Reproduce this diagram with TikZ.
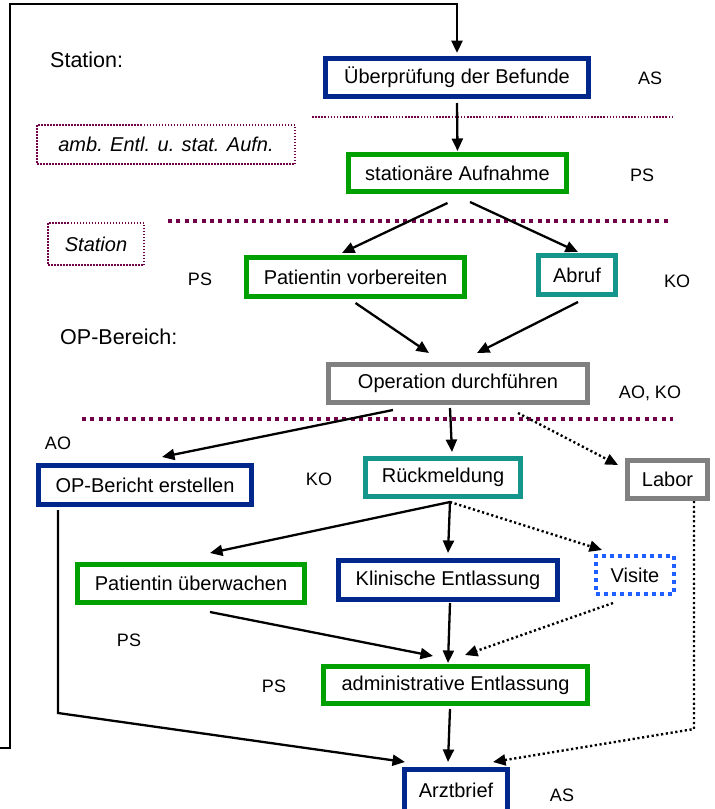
\documentclass[tikz,border=0pt]{standalone}
\usepackage{fontspec}
\setmainfont{Liberation Sans}
\usetikzlibrary{arrows.meta}
\definecolor{navybox}{RGB}{0,40,140}
\definecolor{greenbox}{RGB}{0,160,0}
\definecolor{tealbox}{RGB}{20,150,140}
\definecolor{graybox}{RGB}{128,128,128}
\definecolor{bluedot}{RGB}{30,95,255}
\definecolor{sepcol}{RGB}{112,0,72}
\begin{document}
\begin{tikzpicture}[x=1pt,y=-1pt,
  box/.style={draw, line width=5pt, inner sep=0pt, fill=white, text=black,
    font=\fontsize{20}{24}\selectfont},
  navyb/.style={box, draw=navybox},
  greenb/.style={box, draw=greenbox},
  tealb/.style={box, draw=tealbox},
  grayb/.style={box, draw=graybox},
  visitb/.style={box, draw=bluedot, line width=4pt, dash pattern=on 4pt off 4pt},
  areabox/.style={draw=sepcol, line width=1.5pt, dash pattern=on 1.5pt off 1.5pt,
    inner sep=0pt, font=\fontsize{20}{24}\selectfont\itshape},
  lab/.style={inner sep=0pt, font=\fontsize{18}{21}\selectfont},
  head/.style={inner sep=0pt, font=\fontsize{21.5}{25}\selectfont},
  arr/.style={line width=2.3pt, -{Triangle[length=12.5pt,width=11pt]}},
  dotarr/.style={arr, line width=2.4pt, dash pattern=on 2.2pt off 2.6pt},
  thinsep/.style={draw=sepcol, line width=1.5pt, dash pattern=on 1.5pt off 1.6pt},
  thicksep/.style={draw=sepcol, line width=4pt, dash pattern=on 4pt off 4.4pt},
  frame/.style={line width=2.8pt}
]
\useasboundingbox (0,0) rectangle (715,809);
\clip (0,0) rectangle (715,809);

% section separators
\draw[thinsep] (312,117) -- (673,117);
\draw[thicksep] (168,221) -- (670,221);
\draw[thicksep] (82,419) -- (673,419);

% process steps
\node[navyb,  minimum width=263pt, minimum height=38pt] (ueb)    at (457,77.5)  {Überprüfung der Befunde};
\node[greenb, minimum width=218pt, minimum height=37pt] (stat)   at (457.5,173) {stationäre Aufnahme};
\node[greenb, minimum width=218pt, minimum height=39pt] (pv)     at (355.5,277) {Patientin vorbereiten};
\node[tealb,  minimum width=77pt,  minimum height=39pt] (abruf)  at (577,275)   {Abruf};
\node[grayb,  minimum width=259pt, minimum height=38pt] (op)     at (458,383.5) {Operation durchführen};
\node[navyb,  minimum width=213pt, minimum height=39pt] (opb)    at (145,485)   {OP-Bericht erstellen};
\node[tealb,  minimum width=155pt, minimum height=38pt] (rm)     at (443,477.5) {Rückmeldung};
\node[grayb,  minimum width=80pt,  minimum height=38pt] (labor)  at (667.5,479.5) {Labor};
\node[greenb, minimum width=227pt, minimum height=38pt] (pu)     at (191,583.5) {Patientin überwachen};
\node[navyb,  minimum width=219pt, minimum height=39pt] (kl)     at (448,580)   {Klinische Entlassung};
\node[visitb, minimum width=78pt,  minimum height=38pt] (visite) at (635,575)   {Visite};
\node[greenb, minimum width=264pt, minimum height=37pt] (adm)    at (455.5,685) {administrative Entlassung};
\node[navyb,  minimum width=103pt, minimum height=45pt] (arzt)   at (456,792)   {\raisebox{3pt}{Arztbrief}};

% area markers
\node[areabox, minimum width=258pt, minimum height=39pt] (amb) at (166,144.5) {amb. Entl. u. stat. Aufn.};
\node[areabox, minimum width=96pt,  minimum height=42pt] (stbox) at (96,244) {Station};
\node[head, anchor=west] (hstation) at (50,60)  {Station:};
\node[head, anchor=west] (hop)      at (60,337) {OP-Bereich:};

% roles
\node[lab] (r1)  at (650,78)  {AS};
\node[lab] (r2)  at (642,175) {PS};
\node[lab] (r3)  at (200,279) {PS};
\node[lab] (r4)  at (677,281) {KO};
\node[lab] (r5)  at (650,393) {AO, KO};
\node[lab] (r6)  at (58,443)  {AO};
\node[lab] (r7)  at (319,479) {KO};
\node[lab] (r8)  at (129,640) {PS};
\node[lab] (r9)  at (274,686) {PS};
\node[lab] (r10) at (562,795) {AS};

% feedback loop back to the top
\coordinate (loopin) at (0,748);
\draw[frame, -{Triangle[length=12.5pt,width=11pt]}, shorten >=3pt]
  (loopin) -- (10,748) -- (10,4) -- (457,4) -- (ueb.north);

% flow
\draw[arr] ([shift={(0,4)}]ueb.south) -- ([shift={(0,-1)}]stat.north);
\draw[arr] ([shift={(-10,9)}]stat.south) -- ([shift={(-13.5,-2)}]pv.north);
\draw[arr] ([shift={(12.5,8)}]stat.south) -- ([shift={(1,-1)}]abruf.north);
\draw[arr] ([shift={(0,4)}]pv.south) -- ([shift={(-29,-9)}]op.north);
\draw[arr] ([shift={(1,5)}]abruf.south) -- ([shift={(19,-9)}]op.north);
\draw[arr] ([shift={(-65,5)}]op.south) -- ([shift={(17,-6)}]opb.north);
\draw[arr] ([shift={(-8,3)}]op.south) -- ([shift={(9,-4)}]rm.north);
\draw[dotarr] ([shift={(60,8)}]op.south) -- ([shift={(-7,7)}]labor.north west);
\draw[arr] ([shift={(7,3)}]rm.south) -- ([shift={(19,-9)}]pu.north);
\draw[arr] ([shift={(7,3)}]rm.south) -- ([shift={(0,-5)}]kl.north);
\draw[dotarr] ([shift={(7,3)}]rm.south) -- ([shift={(8,-4)}]visite.north west);
\draw[arr] ([shift={(19,7)}]pu.south) -- ([shift={(-22.5,-8)}]adm.north);
\draw[arr] ([shift={(2,1)}]kl.south) -- ([shift={(-7.5,-1)}]adm.north);
\draw[dotarr] ([shift={(-22,7)}]visite.south) -- ([shift={(9.5,-9)}]adm.north);
\draw[arr] ([shift={(22,3)}]opb.south west) -- ++(0,203) -- ([shift={(3,-5)}]arzt.north west);
\draw[arr] ([shift={(-5.5,3)}]adm.south) -- ([shift={(-8,-5)}]arzt.north);
\draw[dotarr] ([shift={(26.5,0)}]labor.south) -- ++(0,228) -- ([shift={(-17,-5)}]arzt.north east);
\end{tikzpicture}
\end{document}
